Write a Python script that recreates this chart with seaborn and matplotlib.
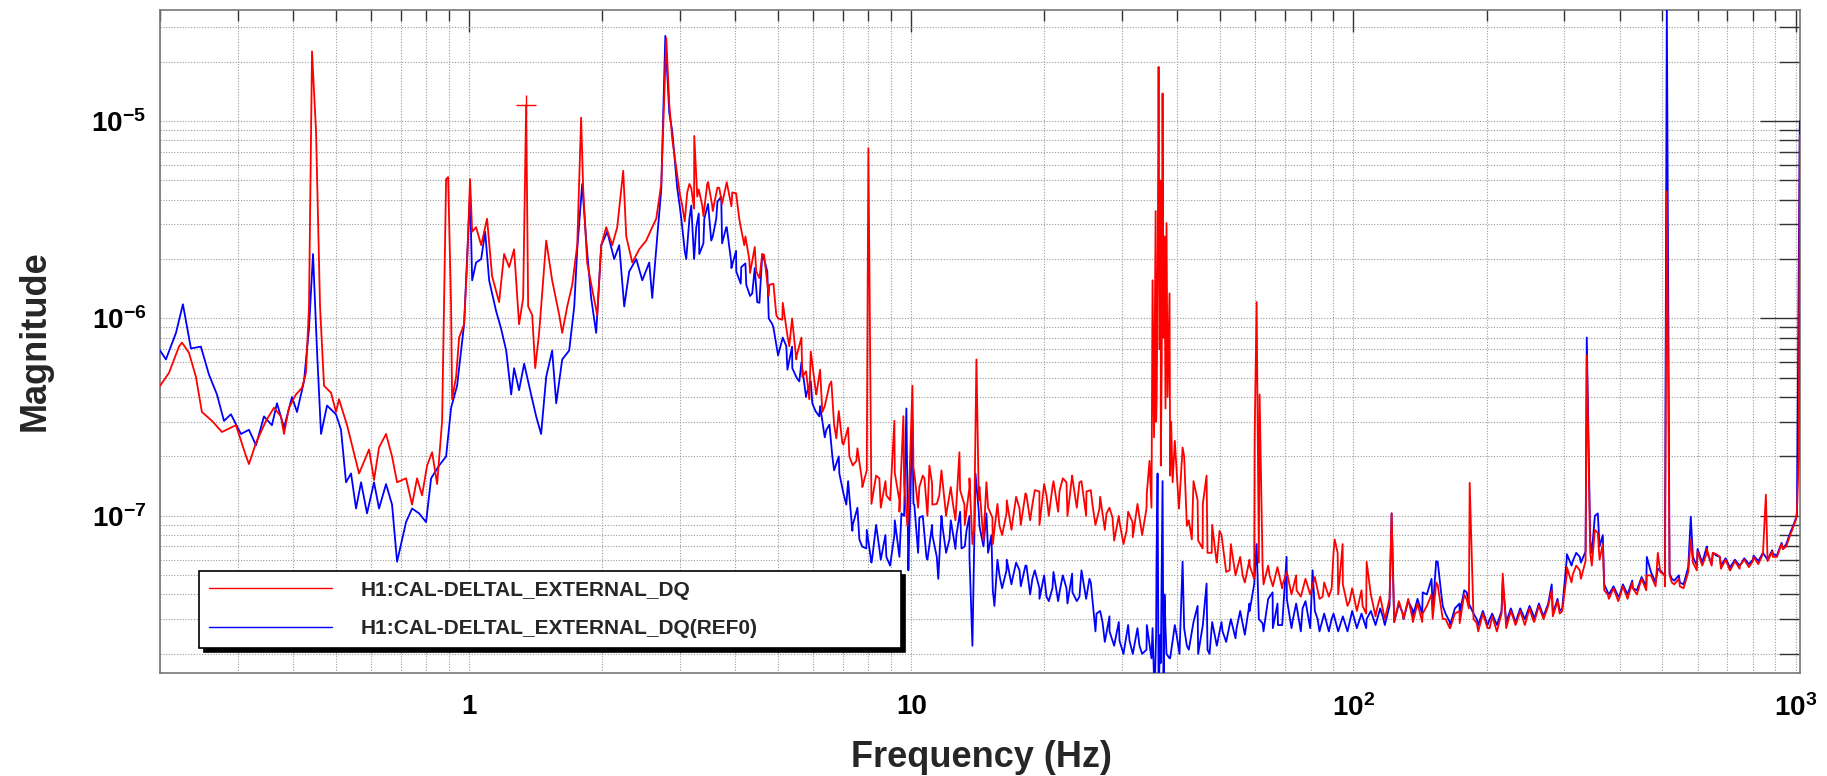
import matplotlib
matplotlib.use("Agg")
import matplotlib.pyplot as plt
import numpy as np
import pandas as pd
import seaborn as sns
from matplotlib.lines import Line2D
from matplotlib.ticker import LogLocator, FixedLocator, FixedFormatter, NullFormatter

# ---- spectrum data: frequency (Hz) and ASD magnitude ----
# resonances, lines and low-frequency shape of each trace
red_freq = [
    0.200, 0.2095, 0.2207, 0.2242, 0.2325, 0.2411, 0.2487, 0.2621, 0.2761, 0.2970,
    0.3129, 0.3178, 0.3296, 0.3472, 0.3620, 0.3754, 0.3814, 0.3914, 0.4059, 0.4188,
    0.4276, 0.4344, 0.4413, 0.4506, 0.4601, 0.4698, 0.4873, 0.5000, 0.5079, 0.5296,
    0.5638, 0.5939, 0.6095, 0.6256, 0.6489, 0.6695, 0.6872, 0.7201, 0.7430, 0.7626,
    0.7827, 0.8035, 0.8248, 0.8466, 0.8689, 0.8871, 0.8965, 0.9105, 0.9152, 0.9345,
    0.9493, 0.9743, 0.9897, 1.005, 1.016, 1.037, 1.065, 1.098, 1.127, 1.169,
    1.200, 1.232, 1.264, 1.297, 1.325, 1.346, 1.360, 1.389, 1.411, 1.440,
    1.494, 1.541, 1.599, 1.624, 1.667, 1.711, 1.756, 1.792, 1.811, 1.849,
    1.898, 1.949, 1.990, 2.042, 2.107, 2.163, 2.231, 2.267, 2.339, 2.425,
    2.515, 2.595, 2.650, 2.720, 2.792, 2.836, 2.880, 2.956, 3.034, 3.114,
    3.180, 3.230, 3.281, 3.367, 3.456, 3.547, 3.679, 3.816, 3.937, 4.083,
    4.191, 4.301, 4.461, 4.603, 4.775, 4.952, 5.109, 5.298, 5.495, 5.670,
    5.880, 6.099, 6.293, 6.595, 6.769, 6.984, 7.244, 7.513, 7.751, 7.998,
    8.124, 8.469, 8.784, 9.158, 9.400, 9.597, 9.799, 10.06, 10.16, 10.43,
    10.71, 10.99, 11.16, 11.57, 12.01, 12.39, 12.85, 13.19, 13.54, 13.75,
    14.04, 14.26, 14.79, 15.26, 15.83, 16.42, 16.94, 17.57, 18.22, 18.79,
    19.49, 20.22, 20.86, 21.64, 22.44, 23.15, 24.01, 24.90, 25.69, 26.65,
    27.64, 28.52, 29.58, 30.68, 31.65, 32.82, 34.04, 34.58, 35.13, 35.40,
    35.70, 35.90, 36.10, 36.25, 36.45, 36.65, 36.85, 37.01, 37.20, 37.39,
    37.55, 37.78, 38.00, 38.38, 38.70, 39.00, 40.30, 41.08, 42.00, 43.10,
    44.42, 45.60, 46.54, 47.80, 49.03, 49.80, 52.47, 56.15, 58.24, 59.78,
    60.40, 61.35, 62.30, 64.62, 69.16, 74.36, 79.60, 85.18, 89.27, 90.68,
    92.11, 94.54, 98.04, 104.9, 107.1, 112.9, 122.0, 129.3, 136.1, 143.4, 151.1,
    155.1, 159.2, 165.1, 173.9, 180.4, 183.2, 190.1, 203.3, 217.6, 234.0,
    254.4, 280.8, 292.7, 303.6, 313.3, 325.0, 337.1, 346.0, 357.0, 366.4,
    376.1, 400.4, 428.4, 460.8, 488.0, 506.1, 511.4, 525.0, 547.3, 579.4,
    597.8, 630.0, 649.9, 674.1, 710.1, 748.2, 800.7, 856.6, 888.4, 936.1,
    980.9, 1007.0, 1017.0, 1022.0,
]
red_mag = [
    4.56e-7, 5.30e-7, 7.20e-7, 7.55e-7, 6.70e-7, 5.06e-7, 3.36e-7, 3.03e-7, 2.66e-7, 2.88e-7,
    2.01e-7, 1.83e-7, 2.34e-7, 3.03e-7, 3.53e-7, 3.19e-7, 2.60e-7, 3.53e-7, 4.12e-7, 4.45e-7,
    5.30e-7, 1.15e-6, 2.25e-5, 8.90e-6, 1.15e-6, 4.56e-7, 4.20e-7, 3.36e-7, 3.90e-7, 2.88e-7,
    1.64e-7, 2.17e-7, 1.52e-7, 2.22e-7, 2.60e-7, 2.00e-7, 1.48e-7, 1.55e-7, 1.14e-7, 1.55e-7,
    1.27e-7, 1.80e-7, 2.10e-7, 1.45e-7, 3.03e-7, 5.08e-6, 5.20e-6, 1.15e-6, 3.90e-7, 5.06e-7,
    8.00e-7, 9.35e-7, 1.92e-6, 5.08e-6, 2.75e-6, 2.90e-6, 2.35e-6, 3.20e-6, 1.64e-6, 1.21e-6,
    2.12e-6, 1.82e-6, 2.24e-6, 9.35e-7, 1.27e-6, 1.20e-5, 1.15e-6, 1.04e-6, 5.60e-7, 8.45e-7,
    2.48e-6, 1.56e-6, 1.04e-6, 8.45e-7, 1.15e-6, 1.48e-6, 2.35e-6, 1.04e-5, 4.58e-6, 1.92e-6,
    1.41e-6, 1.04e-6, 2.35e-6, 2.90e-6, 2.35e-6, 2.90e-6, 5.60e-6, 2.60e-6, 1.92e-6, 2.24e-6,
    2.48e-6, 2.90e-6, 3.20e-6, 4.80e-6, 2.63e-5, 1.22e-5, 8.10e-6, 5.35e-6, 3.73e-6, 4.35e-6,
    4.58e-6, 8.40e-6, 4.14e-6, 3.73e-6, 4.80e-6, 3.73e-6, 4.58e-6, 4.80e-6, 4.35e-6, 3.20e-6,
    2.35e-6, 2.00e-6, 1.73e-6, 2.12e-6, 1.48e-6, 1.04e-6, 9.85e-7, 7.24e-7, 6.20e-7, 5.06e-7,
    3.90e-7, 4.12e-7, 3.36e-7, 4.80e-7, 2.47e-7, 2.34e-7, 2.00e-7, 1.90e-7, 1.40e-7, 7.28e-6,
    1.27e-7, 1.55e-7, 1.27e-7, 3.03e-7, 1.20e-7, 3.20e-7, 8.90e-8, 4.56e-7, 1.64e-7, 1.40e-7,
    1.55e-7, 1.80e-7, 1.14e-7, 1.27e-7, 1.03e-7, 1.20e-7, 2.10e-7, 1.14e-7, 1.55e-7, 7.20e-8,
    6.20e-7, 1.40e-7, 1.48e-7, 9.80e-8, 8.90e-8, 1.03e-7, 9.30e-8, 1.09e-7, 1.27e-7, 1.14e-7,
    1.33e-7, 1.27e-7, 1.40e-7, 1.33e-7, 1.48e-7, 1.55e-7, 1.48e-7, 1.33e-7, 1.14e-7, 1.09e-7,
    1.03e-7, 9.80e-8, 9.30e-8, 8.40e-8, 9.30e-8, 9.80e-8, 1.09e-7, 1.90e-7, 1.56e-6, 2.50e-7,
    3.50e-6, 4.00e-7, 2.20e-6, 1.88e-5, 7.00e-7, 5.00e-6, 6.00e-7, 1.38e-5, 8.00e-7, 2.60e-6,
    5.00e-7, 3.04e-6, 4.00e-7, 1.34e-6, 3.00e-7, 1.48e-7, 1.09e-7, 2.22e-7, 8.90e-8, 7.60e-8,
    1.20e-7, 6.84e-8, 1.60e-7, 6.50e-8, 5.86e-8, 8.40e-8, 5.30e-8, 5.00e-8, 5.60e-8, 2.47e-7,
    1.21e-6, 4.12e-7, 5.60e-8, 5.00e-8, 4.50e-8, 4.20e-8, 4.10e-8, 3.90e-8, 4.30e-8, 7.60e-8,
    6.50e-8, 7.20e-8, 3.70e-8, 3.50e-8, 5.85e-8, 3.34e-8, 1.03e-7, 3.17e-8, 3.01e-8, 3.20e-8, 3.01e-8,
    4.46e-8, 3.01e-8, 2.70e-8, 2.86e-8, 3.76e-8, 1.47e-7, 2.86e-8, 2.70e-8, 5.10e-8, 2.90e-8,
    3.00e-8, 4.20e-8, 3.20e-8, 5.00e-8, 5.04e-8, 5.30e-8, 6.50e-7, 5.60e-8, 8.20e-8, 7.20e-8,
    3.99e-8, 3.90e-8, 4.30e-8, 5.00e-8, 6.50e-8, 5.00e-8, 4.40e-6, 4.60e-8, 4.40e-8, 7.60e-8,
    5.30e-8, 6.50e-8, 6.50e-8, 6.20e-8, 5.30e-8, 5.60e-8, 5.90e-8, 1.28e-7, 6.20e-8, 6.80e-8,
    8.40e-8, 1.05e-7, 2.00e-7, 8.50e-6,
]

blue_freq = [
    0.200, 0.2062, 0.2173, 0.2253, 0.2349, 0.2474, 0.2580, 0.2690, 0.2790, 0.2893,
    0.3048, 0.3178, 0.3296, 0.3436, 0.3582, 0.3677, 0.3814, 0.3976, 0.4081, 0.4232,
    0.4344, 0.4436, 0.4529, 0.4625, 0.4772, 0.5000, 0.5132, 0.5268, 0.5408, 0.5550,
    0.5697, 0.5877, 0.6095, 0.6256, 0.6489, 0.6695, 0.6872, 0.7201, 0.7430, 0.7707,
    0.7993, 0.8204, 0.8554, 0.8871, 0.9105, 0.9393, 0.9743, 1.005, 1.016, 1.037,
    1.065, 1.087, 1.110, 1.151, 1.181, 1.213, 1.245, 1.264, 1.297, 1.332,
    1.381, 1.418, 1.455, 1.494, 1.541, 1.574, 1.624, 1.684, 1.729, 1.756,
    1.802, 1.840, 1.888, 1.938, 1.990, 2.053, 2.129, 2.185, 2.243, 2.302,
    2.388, 2.464, 2.555, 2.595, 2.664, 2.720, 2.778, 2.836, 2.880, 2.956,
    3.034, 3.098, 3.180, 3.264, 3.316, 3.403, 3.529, 3.622, 3.717, 3.816,
    3.917, 4.020, 4.126, 4.235, 4.369, 4.484, 4.603, 4.725, 4.850, 5.030,
    5.217, 5.382, 5.582, 5.789, 5.973, 6.194, 6.426, 6.630, 6.876, 7.131,
    7.358, 7.632, 7.915, 8.166, 8.469, 8.784, 9.158, 9.500, 9.748, 9.850,
    10.06, 10.16, 10.43, 10.82, 11.16, 11.51, 11.76, 12.20, 12.65, 12.99,
    13.33, 13.54, 13.75, 13.97, 14.26, 14.79, 15.18, 15.42, 15.83, 16.42,
    16.94, 17.57, 18.22, 18.79, 19.49, 20.22, 20.86, 21.64, 22.44, 23.15,
    24.01, 25.29, 26.24, 27.07, 28.08, 29.58, 31.16, 32.82, 34.04, 35.13,
    35.50, 35.87, 36.06, 36.25, 36.60, 37.01, 37.20, 37.39, 37.78, 38.38,
    39.81, 41.08, 42.00, 44.42, 46.54, 47.27, 50.59, 54.42, 58.24, 60.40,
    62.30, 65.65, 67.50, 70.61, 73.00, 76.74, 80.85, 83.00, 89.27, 98.04,
    107.1, 116.5, 122.0, 129.3, 136.1, 143.4, 151.1, 155.1, 159.2, 165.1,
    173.9, 180.4, 190.1, 203.3, 217.6, 234.0, 254.4, 280.8, 292.7, 303.6,
    313.3, 325.0, 337.1, 346.0, 357.0, 366.4, 376.1, 400.4, 428.4, 460.8,
    488.0, 506.1, 511.4, 525.0, 547.3, 579.4, 597.8, 630.0, 649.9, 674.1,
    710.1, 748.2, 800.7, 888.4, 936.1, 980.9, 1007.0, 1022.0,
]
blue_mag = [
    6.88e-7, 6.20e-7, 8.45e-7, 1.18e-6, 7.05e-7, 7.20e-7, 5.20e-7, 4.12e-7, 3.03e-7, 3.27e-7,
    2.60e-7, 2.73e-7, 2.28e-7, 3.19e-7, 2.88e-7, 3.72e-7, 2.80e-7, 4.00e-7, 3.36e-7, 4.80e-7,
    8.90e-7, 2.12e-6, 6.88e-7, 2.60e-7, 3.62e-7, 3.27e-7, 2.73e-7, 1.48e-7, 1.64e-7, 1.09e-7,
    1.48e-7, 1.03e-7, 1.48e-7, 1.09e-7, 1.45e-7, 1.14e-7, 5.86e-8, 9.30e-8, 1.09e-7, 1.03e-7,
    9.30e-8, 1.55e-7, 1.80e-7, 2.00e-7, 3.53e-7, 4.56e-7, 9.35e-7, 4.35e-6, 1.56e-6, 1.92e-6,
    2.00e-6, 2.75e-6, 1.56e-6, 1.09e-6, 8.90e-7, 6.88e-7, 4.12e-7, 5.60e-7, 4.33e-7, 5.90e-7,
    4.12e-7, 3.19e-7, 2.60e-7, 5.06e-7, 6.88e-7, 3.72e-7, 6.20e-7, 6.88e-7, 1.15e-6, 2.24e-6,
    4.80e-6, 2.48e-6, 1.27e-6, 8.45e-7, 2.35e-6, 2.75e-6, 2.00e-6, 2.35e-6, 1.15e-6, 1.73e-6,
    2.00e-6, 1.56e-6, 1.92e-6, 1.27e-6, 2.60e-6, 4.50e-6, 2.70e-5, 1.10e-5, 8.90e-6, 4.58e-6,
    2.90e-6, 2.00e-6, 3.73e-6, 2.90e-6, 2.12e-6, 3.20e-6, 2.48e-6, 3.20e-6, 4.14e-6, 2.90e-6,
    1.92e-6, 1.73e-6, 1.82e-6, 1.48e-6, 1.34e-6, 1.21e-6, 2.12e-6, 1.73e-6, 9.35e-7, 6.88e-7,
    7.24e-7, 5.60e-7, 4.80e-7, 4.12e-7, 3.72e-7, 3.19e-7, 2.73e-7, 2.00e-7, 1.64e-7, 1.14e-7,
    8.40e-8, 7.60e-8, 6.84e-8, 6.20e-8, 6.84e-8, 6.20e-8, 8.00e-8, 1.03e-7, 3.50e-7, 5.30e-8,
    3.10e-7, 1.14e-7, 9.80e-8, 6.20e-8, 8.00e-8, 4.80e-8, 8.90e-8, 7.60e-8, 8.00e-8, 6.84e-8,
    8.40e-8, 6.20e-8, 2.20e-8, 1.64e-7, 8.90e-8, 1.03e-7, 8.00e-8, 3.50e-8, 5.00e-8, 5.30e-8,
    4.80e-8, 5.30e-8, 5.60e-8, 4.80e-8, 4.30e-8, 3.90e-8, 4.30e-8, 4.10e-8, 4.30e-8, 4.10e-8,
    3.90e-8, 4.80e-8, 3.20e-8, 2.90e-8, 2.60e-8, 2.33e-8, 2.33e-8, 2.20e-8, 2.10e-8, 2.70e-8,
    1.20e-8, 6.00e-8, 1.64e-7, 1.30e-8, 2.50e-8, 1.50e-7, 1.20e-8, 4.00e-8, 2.00e-8, 1.90e-8,
    2.50e-8, 5.86e-8, 2.20e-8, 3.50e-8, 4.54e-8, 2.00e-8, 2.60e-8, 2.70e-8, 3.30e-8, 7.20e-8,
    2.86e-8, 4.10e-8, 2.80e-8, 6.20e-8, 3.00e-8, 3.40e-8, 5.30e-8, 3.00e-8, 3.00e-8, 2.90e-8,
    3.00e-8, 3.10e-8, 1.03e-7, 3.20e-8, 3.34e-8, 4.10e-8, 3.34e-8, 5.86e-8, 3.50e-8, 2.90e-8,
    3.20e-8, 4.10e-8, 3.00e-8, 3.00e-8, 4.60e-8, 3.00e-8, 3.20e-8, 4.50e-8, 3.30e-8, 6.00e-8,
    5.90e-8, 6.20e-8, 8.00e-7, 6.50e-8, 1.03e-7, 8.00e-8, 4.10e-8, 4.00e-8, 4.30e-8, 6.20e-8,
    5.40e-8, 5.00e-8, 4.00e-5, 4.80e-8, 4.60e-8, 9.90e-8, 5.60e-8, 7.00e-8, 6.50e-8, 6.20e-8,
    5.50e-8, 5.60e-8, 6.00e-8, 6.40e-8, 6.80e-8, 8.60e-8, 1.00e-7, 1.00e-5,
]

# densely sampled noise floor, 3 Hz - 1 kHz, on log-spaced frequency bins
floor_freq = np.geomspace(3.0, 1000.0, 240)
red_floor = [
    4.2e-6, 3.1e-6, 4.8e-6, 3.6e-6, 4.5e-6, 3.3e-6, 4.9e-6, 3.5e-6, 4.6e-6, 3.8e-6,
    4.9e-6, 3.7e-6, 4.3e-6, 2.9e-6, 2.6e-6, 1.7e-6, 2.3e-6, 1.6e-6, 2.1e-6, 1.3e-6,
    1.5e-6, 1.0e-6, 1.2e-6, 8.2e-7, 1.0e-6, 6.5e-7, 8.0e-7, 5.4e-7, 6.8e-7, 4.4e-7,
    5.5e-7, 3.6e-7, 4.6e-7, 2.9e-7, 3.4e-7, 2.3e-7, 2.8e-7, 1.8e-7, 2.2e-7, 1.5e-7,
    1.7e-7, 1.15e-7, 1.6e-7, 1.1e-7, 1.5e-7, 1.2e-7, 1.65e-7, 1.05e-7, 1.45e-7, 1.2e-7,
    1.75e-7, 1.1e-7, 1.6e-7, 1.0e-7, 1.45e-7, 1.15e-7, 1.7e-7, 1.0e-7, 1.4e-7, 9.5e-8,
    1.35e-7, 9.0e-8, 1.4e-7, 8.5e-8, 1.2e-7, 7.5e-8, 1.1e-7, 7.2e-8, 1.15e-7, 8.0e-8,
    1.2e-7, 8.5e-8, 1.25e-7, 9.0e-8, 1.3e-7, 9.5e-8, 1.35e-7, 9.0e-8, 1.45e-7, 1.0e-7,
    1.5e-7, 1.05e-7, 1.55e-7, 1.0e-7, 1.6e-7, 1.1e-7, 1.5e-7, 1.0e-7, 1.35e-7, 9.0e-8,
    1.25e-7, 8.5e-8, 1.1e-7, 7.5e-8, 1.0e-7, 7.2e-8, 1.05e-7, 7.8e-8, 1.15e-7, 8.0e-8,
    1.3e-7, 1.1e-7, 3.0e-7, 1.8e-7, 3.5e-7, 1.6e-7, 2.4e-7, 1.2e-7, 2.0e-7, 9.5e-8,
    1.5e-7, 7.5e-8, 1.15e-7, 6.5e-8, 9.0e-8, 5.8e-8, 8.0e-8, 5.2e-8, 7.2e-8, 5.0e-8,
    6.2e-8, 4.6e-8, 6.0e-8, 4.8e-8, 5.8e-8, 4.5e-8, 5.6e-8, 4.4e-8, 5.5e-8, 4.3e-8,
    5.2e-8, 4.0e-8, 5.0e-8, 3.9e-8, 4.8e-8, 4.0e-8, 4.9e-8, 3.8e-8, 4.6e-8, 3.9e-8,
    6.5e-8, 4.0e-8, 4.5e-8, 3.5e-8, 4.3e-8, 3.3e-8, 4.2e-8, 3.2e-8, 4.0e-8, 3.1e-8,
    3.9e-8, 3.0e-8, 3.8e-8, 2.9e-8, 3.7e-8, 3.0e-8, 3.8e-8, 2.9e-8, 3.6e-8, 2.9e-8,
    3.5e-8, 4.0e-8, 4.6e-8, 3.5e-8, 3.0e-8, 2.7e-8, 3.2e-8, 3.3e-8, 4.0e-8, 3.4e-8,
    3.0e-8, 2.6e-8, 3.2e-8, 2.7e-8, 3.1e-8, 2.6e-8, 3.2e-8, 2.7e-8, 3.3e-8, 2.8e-8,
    3.3e-8, 2.8e-8, 3.4e-8, 2.9e-8, 3.5e-8, 3.0e-8, 3.5e-8, 3.1e-8, 3.7e-8, 3.3e-8,
    5.5e-8, 4.6e-8, 5.6e-8, 4.8e-8, 5.9e-8, 6.5e-8, 8.5e-8, 6.0e-8, 4.2e-8, 3.8e-8,
    4.3e-8, 3.7e-8, 4.4e-8, 3.8e-8, 4.6e-8, 4.0e-8, 4.8e-8, 4.2e-8, 5.0e-8, 4.4e-8,
    5.2e-8, 4.4e-8, 5.0e-8, 4.5e-8, 4.8e-8, 4.3e-8, 5.2e-8, 5.8e-8, 6.6e-8, 5.6e-8,
    6.8e-8, 5.6e-8, 6.4e-8, 5.4e-8, 6.0e-8, 5.3e-8, 5.9e-8, 5.4e-8, 6.0e-8, 5.5e-8,
    6.2e-8, 5.7e-8, 6.4e-8, 5.9e-8, 6.6e-8, 6.2e-8, 7.2e-8, 7.0e-8, 8.2e-8, 9.5e-8,
]
blue_floor = [
    3.6e-6, 2.2e-6, 3.2e-6, 2.0e-6, 3.4e-6, 2.4e-6, 3.8e-6, 2.6e-6, 3.9e-6, 2.4e-6,
    2.9e-6, 1.8e-6, 2.2e-6, 1.5e-6, 1.9e-6, 1.3e-6, 1.8e-6, 1.2e-6, 2.0e-6, 1.0e-6,
    9.0e-7, 6.5e-7, 8.0e-7, 5.5e-7, 7.2e-7, 5.0e-7, 6.0e-7, 4.0e-7, 4.8e-7, 3.4e-7,
    3.6e-7, 2.5e-7, 2.9e-7, 1.7e-7, 2.0e-7, 1.3e-7, 1.5e-7, 9.0e-8, 1.1e-7, 7.0e-8,
    8.5e-8, 5.8e-8, 9.0e-8, 6.0e-8, 8.0e-8, 5.6e-8, 9.5e-8, 6.2e-8, 1.0e-7, 6.5e-8,
    1.15e-7, 6.5e-8, 1.0e-7, 6.0e-8, 9.0e-8, 6.2e-8, 1.0e-7, 6.5e-8, 9.5e-8, 6.8e-8,
    1.05e-7, 7.0e-8, 1.0e-7, 6.5e-8, 1.05e-7, 7.0e-8, 6.5e-8, 4.2e-8, 6.0e-8, 4.3e-8,
    6.0e-8, 4.5e-8, 5.8e-8, 4.4e-8, 5.6e-8, 4.0e-8, 5.3e-8, 3.8e-8, 5.0e-8, 3.7e-8,
    5.2e-8, 3.7e-8, 5.0e-8, 3.6e-8, 5.1e-8, 3.7e-8, 5.3e-8, 3.8e-8, 4.6e-8, 2.6e-8,
    3.3e-8, 2.3e-8, 3.1e-8, 2.2e-8, 2.9e-8, 2.0e-8, 2.8e-8, 2.0e-8, 2.7e-8, 2.0e-8,
    2.8e-8, 1.9e-8, 2.6e-8, 1.8e-8, 2.7e-8, 1.9e-8, 2.8e-8, 2.0e-8, 2.7e-8, 2.1e-8,
    2.9e-8, 2.0e-8, 2.8e-8, 2.1e-8, 2.9e-8, 2.2e-8, 2.9e-8, 2.3e-8, 3.0e-8, 2.4e-8,
    3.3e-8, 2.5e-8, 3.6e-8, 4.5e-8, 3.0e-8, 2.6e-8, 3.8e-8, 2.7e-8, 3.6e-8, 2.8e-8,
    3.8e-8, 2.7e-8, 3.6e-8, 2.6e-8, 3.7e-8, 2.7e-8, 3.3e-8, 2.6e-8, 3.2e-8, 2.6e-8,
    3.2e-8, 2.6e-8, 3.1e-8, 2.6e-8, 3.3e-8, 2.7e-8, 3.2e-8, 2.7e-8, 3.3e-8, 2.8e-8,
    3.4e-8, 2.8e-8, 3.5e-8, 2.9e-8, 3.6e-8, 3.0e-8, 3.7e-8, 3.1e-8, 3.8e-8, 3.2e-8,
    4.0e-8, 4.8e-8, 5.9e-8, 4.2e-8, 3.2e-8, 2.8e-8, 3.4e-8, 3.6e-8, 4.2e-8, 3.6e-8,
    3.2e-8, 2.8e-8, 3.3e-8, 2.8e-8, 3.2e-8, 2.8e-8, 3.3e-8, 2.9e-8, 3.4e-8, 2.9e-8,
    3.4e-8, 3.0e-8, 3.5e-8, 3.0e-8, 3.6e-8, 3.1e-8, 3.6e-8, 3.2e-8, 3.8e-8, 3.4e-8,
    6.4e-8, 5.6e-8, 6.5e-8, 5.8e-8, 6.6e-8, 7.5e-8, 1.0e-7, 7.0e-8, 4.5e-8, 4.0e-8,
    4.4e-8, 3.9e-8, 4.5e-8, 4.0e-8, 4.7e-8, 4.2e-8, 4.9e-8, 4.4e-8, 5.2e-8, 4.6e-8,
    5.3e-8, 4.6e-8, 5.1e-8, 4.7e-8, 5.0e-8, 4.5e-8, 5.5e-8, 6.2e-8, 6.8e-8, 5.8e-8,
    6.6e-8, 5.7e-8, 6.3e-8, 5.6e-8, 6.1e-8, 5.5e-8, 6.0e-8, 5.6e-8, 6.1e-8, 5.7e-8,
    6.3e-8, 5.9e-8, 6.5e-8, 6.0e-8, 6.7e-8, 6.3e-8, 7.3e-8, 7.2e-8, 8.4e-8, 9.6e-8,
]

# cursor placed on the 1.35 Hz line of the live trace
cursor_freq = 1.346
cursor_mag = 1.20e-5

series_names = ["H1:CAL-DELTAL_EXTERNAL_DQ", "H1:CAL-DELTAL_EXTERNAL_DQ(REF0)"]
series_colors = ["#ff0000", "#0000ff"]

x_major = [1, 10, 100, 1000]
x_major_labels = ["1", "10", "10$^{2}$", "10$^{3}$"]
y_major = [1e-7, 1e-6, 1e-5]
y_major_labels = ["10$^{-7}$", "10$^{-6}$", "10$^{-5}$"]


def merged_trace(freq, mag, ffreq, fmag):
    """Combine line/resonance readings with the noise-floor readings, ordered in frequency."""
    f = np.concatenate([np.asarray(freq), np.asarray(ffreq)])
    m = np.concatenate([np.asarray(mag), np.asarray(fmag)])
    order = np.argsort(f, kind="stable")
    return pd.DataFrame({"freq": f[order], "mag": m[order]})


df_red = merged_trace(red_freq, red_mag, floor_freq, red_floor)
df_blue = merged_trace(blue_freq, blue_mag, floor_freq, blue_floor)

# ---- style ----
sns.set_theme(style="white")
plt.rcParams["font.family"] = ["Liberation Sans", "DejaVu Sans"]
plt.rcParams["font.weight"] = "bold"
plt.rcParams["mathtext.fontset"] = "custom"
plt.rcParams["mathtext.rm"] = "Liberation Sans:bold"
plt.rcParams["mathtext.it"] = "Liberation Sans:bold"
plt.rcParams["mathtext.bf"] = "Liberation Sans:bold"
plt.rcParams["mathtext.default"] = "rm"

fig = plt.figure(figsize=(18.27, 7.76), dpi=100)
ax = fig.add_axes([0.0876, 0.1327, 0.8976, 0.8544])

# reference trace below, live trace on top
sns.lineplot(data=df_blue, x="freq", y="mag", ax=ax, color=series_colors[1],
             lw=1.3, estimator=None, sort=False, zorder=3)
sns.lineplot(data=df_red, x="freq", y="mag", ax=ax, color=series_colors[0],
             lw=1.3, estimator=None, sort=False, zorder=5)
ax.plot([cursor_freq], [cursor_mag], marker="+", color=series_colors[0],
        markersize=14, mew=1.0, linestyle="none", zorder=6)

ax.set_xscale("log")
ax.set_yscale("log")
ax.set_xlim(0.2, 1023)
ax.set_ylim(1.6e-8, 3.65e-5)

ax.xaxis.set_major_locator(FixedLocator(x_major))
ax.xaxis.set_major_formatter(FixedFormatter(x_major_labels))
ax.xaxis.set_minor_locator(LogLocator(base=10, subs=np.arange(2, 10), numticks=20))
ax.xaxis.set_minor_formatter(NullFormatter())
ax.yaxis.set_major_locator(FixedLocator(y_major))
ax.yaxis.set_major_formatter(FixedFormatter(y_major_labels))
ax.yaxis.set_minor_locator(LogLocator(base=10, subs=np.arange(2, 10), numticks=20))
ax.yaxis.set_minor_formatter(NullFormatter())

ax.grid(True, which="both", axis="both", color="#9a9a9a", linestyle=(0, (1, 1.5)), lw=0.8)
ax.set_axisbelow(True)

ax.tick_params(axis="both", which="both", direction="in", top=True, right=True,
               color="#333333", labelcolor="black", width=1.0)
ax.tick_params(axis="y", which="major", length=29, pad=10, labelsize=20)
ax.tick_params(axis="y", which="minor", length=15)
ax.tick_params(axis="x", which="major", length=16, pad=15, labelsize=20)
ax.tick_params(axis="x", which="minor", length=8)
for lab in ax.get_xticklabels() + ax.get_yticklabels():
    lab.set_fontweight("bold")

for sp in ax.spines.values():
    sp.set_color("#777777")
    sp.set_linewidth(1.2)

ax.set_xlabel("Frequency (Hz)", fontsize=26, fontweight="bold", va="center")
ax.set_ylabel("Magnitude", fontsize=26, fontweight="bold", va="center")
ax.xaxis.set_label_coords(0.501, -0.127)
ax.yaxis.set_label_coords(-0.076, 0.502)

handles = [Line2D([], [], color=c, lw=1.0) for c in series_colors]
leg = ax.legend(handles, series_names, loc="lower left",
                bbox_to_anchor=(0.024, 0.038, 0.428, 0.122), mode="expand",
                borderaxespad=0, borderpad=0.45, labelspacing=0.95,
                handlelength=5.9, handletextpad=1.4, fancybox=False,
                shadow={"ox": 3, "oy": -3, "color": "black", "alpha": 1.0},
                prop={"size": 15, "weight": "bold"}, framealpha=1.0)
leg.set_zorder(10)
leg.get_frame().set_edgecolor("black")
leg.get_frame().set_linewidth(1.2)

fig.savefig("out.png", dpi=100)
